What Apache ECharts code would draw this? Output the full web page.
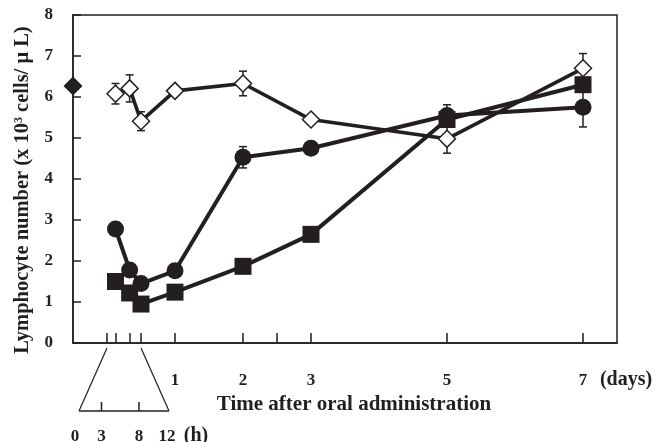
<!DOCTYPE html>
<html>
<head>
<meta charset="utf-8">
<script src="https://cdn.jsdelivr.net/npm/echarts@6/dist/echarts.min.js"></script>
<style>
  html, body { margin: 0; padding: 0; background: #fff; }
  #chart { width: 657px; height: 442px; }
</style>
</head>
<body>
<div id="chart"></div>
<script>
// time points in days (3h, 8h, 12h, then days)
var timeDays = [0.125, 0.333, 0.5, 1, 2, 3, 5, 7];
// pre-dose value, drawn on the y axis
var baseDay = -0.5;
var baseValue = 6.27;

// open diamonds
var openValues = [6.08, 6.21, 5.41, 6.15, 6.33, 5.45, 4.98, 6.70];
var openErr    = [0.25, 0.33, 0.23, 0, 0.30, 0, 0.35, 0.36];
// filled circles
var circleValues = [2.78, 1.78, 1.45, 1.76, 4.53, 4.75, 5.55, 5.75];
var circleErr    = [0, 0, 0, 0, 0.26, 0, 0.26, 0.48];
// filled squares
var squareValues = [1.50, 1.22, 0.95, 1.24, 1.87, 2.65, 5.45, 6.30];

// x axis ticks / labels (days)
var tickDays  = [0, 0.125, 0.333, 0.5, 1, 2, 2.5, 3, 5, 7];
var labelDays = [1, 2, 3, 5, 7];
// inset hour scale
var insetHours = [0, 3, 8, 12];
var insetTicks = [3, 8];

var font = '"Liberation Serif", "Times New Roman", serif';
var ink = '#231f20';

function pairs(vals) {
  return vals.map(function (v, i) { return [timeDays[i], v]; });
}
function errData(vals, errs) {
  var out = [];
  vals.forEach(function (v, i) {
    if (errs[i] > 0) out.push([timeDays[i], v - errs[i], v + errs[i]]);
  });
  return out;
}

function errRender(params, api) {
  var x = api.value(0);
  var lo = api.coord([x, api.value(1)]);
  var hi = api.coord([x, api.value(2)]);
  var c = 4;
  var st = { stroke: ink, lineWidth: 1.5 };
  return {
    type: 'group',
    children: [
      { type: 'line', shape: { x1: lo[0], y1: lo[1], x2: hi[0], y2: hi[1] }, style: st },
      { type: 'line', shape: { x1: hi[0] - c, y1: hi[1], x2: hi[0] + c, y2: hi[1] }, style: st },
      { type: 'line', shape: { x1: lo[0] - c, y1: lo[1], x2: lo[0] + c, y2: lo[1] }, style: st }
    ]
  };
}

var myChart = echarts.init(document.getElementById('chart'));

var option = {
  backgroundColor: '#fff',
  animation: false,
  grid: {
    left: 73, right: 40, top: 15, bottom: 99,
    show: true, borderColor: ink, borderWidth: 1.5,
    outerBoundsMode: 'none'
  },
  xAxis: {
    type: 'value',
    min: -0.5, max: 7.5,
    splitLine: { show: false },
    axisLine: { onZero: false, lineStyle: { color: ink, width: 1.5 } },
    axisTick: { show: true, inside: true, length: 10, lineStyle: { color: ink, width: 1.5 }, customValues: tickDays },
    axisLabel: { customValues: labelDays, margin: 29, color: ink, fontFamily: font, fontWeight: 'bold', fontSize: 17 },
    name: 'Time after oral administration',
    nameLocation: 'middle',
    nameGap: 43,
    nameTextStyle: { color: ink, fontFamily: font, fontWeight: 'bold', fontSize: 21, padding: [0, 0, 0, 18] }
  },
  yAxis: {
    type: 'value',
    min: 0, max: 8, interval: 1,
    splitLine: { show: false },
    axisLine: { show: true, onZero: false, lineStyle: { color: ink, width: 1.5 } },
    axisTick: { show: true, inside: true, length: 8, lineStyle: { color: ink, width: 1.5 } },
    axisLabel: { margin: 20, color: ink, fontFamily: font, fontWeight: 'bold', fontSize: 17 },
    name: 'Lymphocyte number (x 10{sup|3} cells/ \u03bc L)',
    nameLocation: 'middle',
    nameGap: 39,
    nameTextStyle: {
      color: ink, fontFamily: font, fontWeight: 'bold', fontSize: 20.5,
      padding: [0, 22, 0, 0],
      rich: { sup: { fontFamily: font, fontWeight: 'bold', fontSize: 12, verticalAlign: 'top', padding: [0, 0, 9, 0], color: ink } }
    }
  },
  series: [
    {
      type: 'custom', name: 'err-open', renderItem: errRender, z: 1,
      data: errData(openValues, openErr), encode: { x: 0, y: [1, 2] }
    },
    {
      type: 'custom', name: 'err-circle', renderItem: errRender, z: 1,
      data: errData(circleValues, circleErr), encode: { x: 0, y: [1, 2] }
    },
    {
      type: 'line', name: 'square', data: pairs(squareValues), z: 3,
      symbol: 'rect', symbolSize: 17,
      lineStyle: { color: ink, width: 4 },
      itemStyle: { color: ink }
    },
    {
      type: 'line', name: 'circle', data: pairs(circleValues), z: 4,
      symbol: 'circle', symbolSize: 17,
      lineStyle: { color: ink, width: 4 },
      itemStyle: { color: ink }
    },
    {
      type: 'line', name: 'open', data: pairs(openValues), z: 5,
      symbol: 'diamond', symbolSize: 17,
      lineStyle: { color: ink, width: 3.6 },
      itemStyle: { color: '#fff', borderColor: ink, borderWidth: 1.5 }
    },
    {
      type: 'scatter', name: 'base', data: [[baseDay, baseValue]], z: 6,
      symbol: 'diamond', symbolSize: 19, clip: false,
      itemStyle: { color: ink, opacity: 1 }
    }
  ]
};

myChart.setOption(option);

// inset hour scale under the axis, plus the "(days)" unit label
function px(day, val) {
  return myChart.convertToPixel({ gridIndex: 0 }, [day, val]);
}
var p0 = px(0, 0), p12 = px(0.5, 0);
var axisY = p0[1];
var topY = axisY + 5, botY = axisY + 68;
var spread = 28;
var bx0 = p0[0] - spread, bx12 = p12[0] + spread;
function hx(h) { return bx0 + (bx12 - bx0) * h / 12; }

var txt = { fill: ink, fontFamily: font, fontWeight: 'bold', fontSize: 17, align: 'center', verticalAlign: 'middle' };
var graphics = [
  { type: 'line', shape: { x1: p0[0], y1: topY, x2: bx0, y2: botY }, style: { stroke: ink, lineWidth: 1.2 } },
  { type: 'line', shape: { x1: p12[0], y1: topY, x2: bx12, y2: botY }, style: { stroke: ink, lineWidth: 1.2 } },
  { type: 'line', shape: { x1: bx0, y1: botY, x2: bx12, y2: botY }, style: { stroke: ink, lineWidth: 1.5 } }
];
insetTicks.forEach(function (h) {
  graphics.push({ type: 'line', shape: { x1: hx(h), y1: botY, x2: hx(h), y2: botY - 9 }, style: { stroke: ink, lineWidth: 1.5 } });
});
insetHours.forEach(function (h) {
  var dx = h === 0 ? -4 : (h === 12 ? -2 : 0);
  graphics.push({ type: 'text', x: hx(h) + dx, y: botY + 26, style: Object.assign({ text: String(h) }, txt) });
});
graphics.push({ type: 'text', x: bx12 + 27, y: botY + 25, style: Object.assign({}, txt, { text: '(h)', fontSize: 20 }) });
var p7 = px(7, 0);
graphics.push({ type: 'text', x: p7[0] + 43, y: axisY + 37, style: Object.assign({}, txt, { text: '(days)', fontSize: 20 }) });

myChart.setOption({ graphic: graphics });
</script>
</body>
</html>
